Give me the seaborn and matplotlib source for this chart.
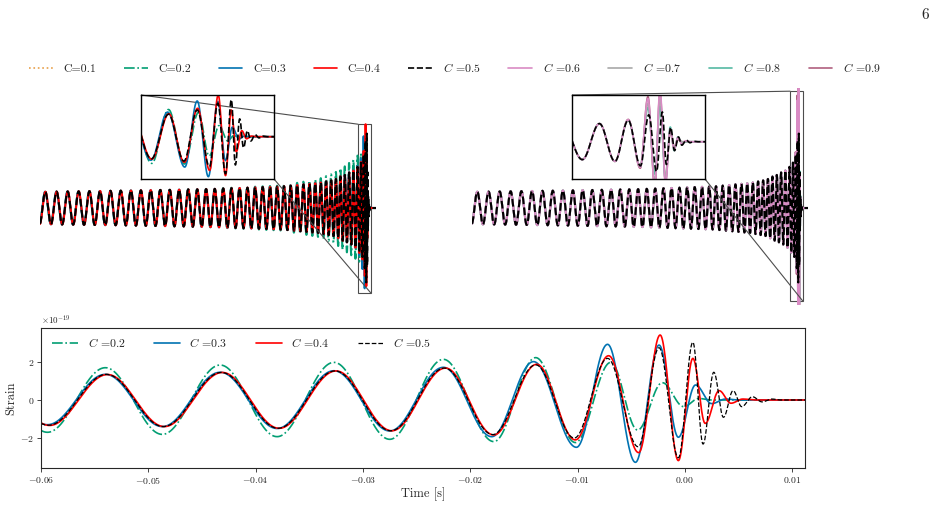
import numpy as np
import pandas as pd
import matplotlib.pyplot as plt
import seaborn as sns
from matplotlib.lines import Line2D
from mpl_toolkits.axes_grid1.inset_locator import mark_inset

# compactness values and their line styles
compactness = ["0.1", "0.2", "0.3", "0.4", "0.5", "0.6", "0.7", "0.8", "0.9"]
colors = ["#E8A04A", "#029E73", "#0173B2", "#FF0000", "#000000",
          "#D98BC4", "#A8A8A8", "#55B9A3", "#B0607F"]
linestyles = [":", "-.", "-", "-", "--", "-", "-", "-", "-"]
labels = ["C=0.1", "C=0.2", "C=0.3", "C=0.4", r"$C$ =0.5", r"$C$ =0.6",
          r"$C$ =0.7", r"$C$ =0.8", r"$C$ =0.9"]

# early inspiral: period [s] and amplitude [1e-19]
knot_t = [-0.81, -0.60, -0.40, -0.25, -0.15, -0.10, -0.0594]
knot_period = [0.0285, 0.0253, 0.0219, 0.0184, 0.0152, 0.0130, 0.0108]
amp_t = [-0.81, -0.60, -0.40, -0.21, -0.12, -0.08]
amp_all = [0.66, 0.71, 0.77, 0.88, 1.02, 1.15]
amp_c02 = [0.66, 0.71, 0.78, 0.92, 1.18, 1.42]

# extrema of the last cycles (time [s], strain [1e-19])
ext_t_c02 = [-0.0594, -0.0540, -0.0487, -0.0433, -0.0380, -0.0327, -0.0275, -0.0225,
             -0.0178, -0.0139, -0.0102, -0.0069, -0.0044, -0.0021, -0.0001, 0.0013, 0.0025]
ext_h_c02 = [-1.70, 1.70, -1.81, 1.84, -1.93, 1.98, -2.07, 2.14,
             -2.19, 2.23, -2.24, 1.98, -1.58, 0.91, -0.35, 0.08, 0.0]

ext_t_c03 = [-0.0594, -0.0540, -0.0487, -0.0433, -0.0380, -0.0327, -0.0275, -0.0225,
             -0.0180, -0.0141, -0.0101, -0.0072, -0.0046, -0.0024, -0.0006, 0.0010,
             0.0025, 0.0038, 0.0050]
ext_h_c03 = [-1.30, 1.35, -1.40, 1.46, -1.50, 1.54, -1.63, 1.72,
             -1.93, 2.02, -2.49, 2.93, -3.28, 2.89, -1.96, 0.79,
             -0.19, 0.05, 0.0]

ext_t_c04 = [-0.0592, -0.0538, -0.0485, -0.0431, -0.0378, -0.0325, -0.0273, -0.0223,
             -0.0178, -0.0138, -0.0102, -0.0071, -0.0043, -0.0023, -0.0006, 0.00075,
             0.0019, 0.0032, 0.0043, 0.0054, 0.0066]
ext_h_c04 = [-1.34, 1.34, -1.40, 1.45, -1.49, 1.53, -1.62, 1.68,
             -1.84, 1.88, -2.10, 2.33, -2.77, 3.42, -3.19, 2.19,
             -1.23, 0.49, -0.17, 0.05, 0.0]

ext_t_c05 = [-0.0593, -0.0539, -0.0486, -0.0432, -0.0379, -0.0326, -0.0274, -0.0224,
             -0.0179, -0.0139, -0.0103, -0.0072, -0.00435, -0.0024, -0.0006, 0.00075,
             0.0017, 0.0027, 0.0036, 0.0045, 0.0053, 0.0063, 0.0072, 0.0081, 0.0090]
ext_h_c05 = [-1.33, 1.35, -1.40, 1.45, -1.49, 1.53, -1.62, 1.68,
             -1.82, 1.85, -2.00, 2.19, -2.46, 2.75, -3.04, 3.04,
             -2.32, 1.46, -0.91, 0.49, -0.35, 0.17, -0.10, 0.05, 0.0]

ext_t_c06 = [-0.0593, -0.0539, -0.0486, -0.0432, -0.0379, -0.0326, -0.0274, -0.0224,
             -0.0179, -0.0139, -0.0103, -0.0072, -0.0044, -0.0026, -0.0010, 0.0002,
             0.0015, 0.0026, 0.0035, 0.0044, 0.0053, 0.0062, 0.0072]
ext_h_c06 = [-1.33, 1.35, -1.40, 1.45, -1.49, 1.53, -1.62, 1.68,
             -1.82, 1.85, -2.00, 2.25, -2.60, 4.40, -4.60, 5.30,
             -4.30, 1.30, -0.80, 0.45, -0.25, 0.10, 0.0]

ext_t_c07 = [-0.0593, -0.0539, -0.0486, -0.0432, -0.0379, -0.0326, -0.0274, -0.0224,
             -0.0179, -0.0139, -0.0103, -0.0072, -0.0044, -0.0026, -0.0010, 0.0002,
             0.0015, 0.0026, 0.0035, 0.0044, 0.0054]
ext_h_c07 = [-1.33, 1.35, -1.40, 1.45, -1.49, 1.53, -1.62, 1.68,
             -1.82, 1.85, -2.00, 2.22, -2.50, 3.90, -4.00, 4.50,
             -3.60, 1.10, -0.60, 0.30, 0.0]

ext_t_c08 = [-0.0593, -0.0539, -0.0486, -0.0432, -0.0379, -0.0326, -0.0274, -0.0224,
             -0.0179, -0.0139, -0.0103, -0.0072, -0.0044, -0.0026, -0.0010, 0.0002,
             0.0015, 0.0026, 0.0035, 0.0044, 0.0053, 0.0062]
ext_h_c08 = [-1.33, 1.35, -1.40, 1.45, -1.49, 1.53, -1.62, 1.68,
             -1.82, 1.85, -2.00, 2.20, -2.55, 3.50, -3.30, 3.60,
             -3.90, 1.50, -0.90, 0.50, -0.20, 0.0]

ext_t_c09 = [-0.0593, -0.0539, -0.0486, -0.0432, -0.0379, -0.0326, -0.0274, -0.0224,
             -0.0179, -0.0139, -0.0103, -0.0072, -0.0044, -0.0026, -0.0010, 0.0002,
             0.0015, 0.0026, 0.0035, 0.0044, 0.0053]
ext_h_c09 = [-1.33, 1.35, -1.40, 1.45, -1.49, 1.53, -1.62, 1.68,
             -1.82, 1.85, -2.00, 2.28, -2.70, 4.60, -4.70, 5.00,
             -4.10, 1.00, -0.50, 0.20, 0.0]


def build_wave(ext_t, ext_h, amp_v, t):
    # extend the read extrema backwards with the inspiral period/amplitude knots
    et, eh = list(ext_t), list(ext_h)
    while et[0] > t[0]:
        et.insert(0, et[0] - 0.5 * np.interp(et[0], knot_t, knot_period))
        a = np.interp(et[0], amp_t + [ext_t[0]], amp_v + [abs(ext_h[0])])
        eh.insert(0, -np.sign(eh[0]) * a)
    et, eh = np.array(et), np.array(eh)
    k = np.clip(np.searchsorted(et, t) - 1, 0, len(et) - 2)
    s = np.clip((t - et[k]) / (et[k + 1] - et[k]), 0, 1)
    return 0.5 * (eh[k] + eh[k + 1]) + 0.5 * (eh[k] - eh[k + 1]) * np.cos(np.pi * s)


t = np.linspace(-0.812, 0.0235, 60000)
waves = {
    "0.2": build_wave(ext_t_c02, ext_h_c02, amp_c02, t),
    "0.3": build_wave(ext_t_c03, ext_h_c03, amp_all, t),
    "0.4": build_wave(ext_t_c04, ext_h_c04, amp_all, t),
    "0.5": build_wave(ext_t_c05, ext_h_c05, amp_all, t),
    "0.6": build_wave(ext_t_c06, ext_h_c06, amp_all, t),
    "0.7": build_wave(ext_t_c07, ext_h_c07, amp_all, t),
    "0.8": build_wave(ext_t_c08, ext_h_c08, amp_all, t),
    "0.9": build_wave(ext_t_c09, ext_h_c09, amp_all, t),
}
df = pd.DataFrame({"t": t, **waves})

sns.set_style("ticks")
plt.rcParams["font.family"] = "serif"
plt.rcParams["font.serif"] = ["cmr10"]
plt.rcParams["mathtext.fontset"] = "cm"
plt.rcParams["axes.formatter.use_mathtext"] = True


def draw(ax, data, c, lw, scale=1.0, label=None):
    i = compactness.index(c)
    sns.lineplot(x=data["t"].to_numpy(), y=data[c].to_numpy() * scale, ax=ax,
                 color=colors[i], linestyle=linestyles[i], lw=lw, label=label,
                 estimator=None, sort=False, errorbar=None)


W, H = 936, 508
fig = plt.figure(figsize=(W / 100, H / 100), dpi=100)


def rect(x0, y0, x1, y1):
    return [x0 / W, 1 - y1 / H, (x1 - x0) / W, (y1 - y0) / H]


ax_l = fig.add_axes(rect(40, 88, 376, 305))
ax_r = fig.add_axes(rect(472, 88, 808, 305))
ins_l = fig.add_axes(rect(141, 95, 274, 179))
ins_r = fig.add_axes(rect(572, 95, 705, 179))
ax_b = fig.add_axes(rect(41, 328, 805, 468))

left_set = ["0.2", "0.3", "0.4", "0.5"]
right_set = ["0.9", "0.8", "0.7", "0.6", "0.5"]
near = df[(df["t"] > -0.0215) & (df["t"] < 0.012)]

for ax, ins, series, ylim_in in [(ax_l, ins_l, left_set, (-3.47, 3.42)),
                                 (ax_r, ins_r, right_set, (-3.8, 4.77))]:
    for c in series:
        draw(ax, df, c, 1.5)
        draw(ins, near, c, 1.2)
    ax.set_xlim(-0.81, 0.0235)
    ax.set_ylim(-3.96, 4.9)
    ax.axis("off")
    ins.set_xlim(-0.0203, 0.0107)
    ins.set_ylim(*ylim_in)
    ins.set_xticks([])
    ins.set_yticks([])
    for sp in ins.spines.values():
        sp.set_linewidth(1.0)
        sp.set_color("black")
    mark_inset(ax, ins, loc1=2, loc2=4, fc="none", ec="0.3", lw=0.8)

# lower panel: zoom on the merger
low = df[(df["t"] > -0.061) & (df["t"] < 0.012)]
for c in ["0.2", "0.3", "0.4", "0.5"]:
    lw = 0.9 if c == "0.5" else 1.2
    draw(ax_b, low, c, lw, scale=1e-19, label=r"$C$ =" + c)
ax_b.set_xlim(-0.06, 0.0112)
ax_b.set_ylim(-3.58e-19, 3.79e-19)
ax_b.set_xticks([-0.06, -0.05, -0.04, -0.03, -0.02, -0.01, 0.0, 0.01])
ax_b.set_yticks([-2e-19, 0, 2e-19])
ax_b.tick_params(labelsize=7, length=3, width=0.6, pad=2)
ax_b.yaxis.get_offset_text().set_fontsize(6.5)
for sp in ax_b.spines.values():
    sp.set_linewidth(0.8)
ax_b.set_xlabel("Time [s]", fontsize=9, labelpad=1)
ax_b.set_ylabel("Strain", fontsize=9, labelpad=2)
ax_b.legend(loc="upper left", ncol=4, frameon=False, fontsize=8.5,
            handlelength=2.2, columnspacing=2.4, borderaxespad=0.3,
            bbox_to_anchor=(0.004, 1.0))

# shared legend on top
handles = [Line2D([], [], color=colors[i], linestyle=linestyles[i], lw=1.2)
           for i in range(len(compactness))]
fig.legend(handles, labels, loc="center left", bbox_to_anchor=(0.02, 1 - 68 / H),
           ncol=9, frameon=False, fontsize=8.5, handlelength=2.0,
           handletextpad=0.9, columnspacing=2.35)

fig.text(925 / W, 1 - 15 / H, "6", fontsize=11, ha="center", va="center")

fig.savefig("out.png", dpi=100)
